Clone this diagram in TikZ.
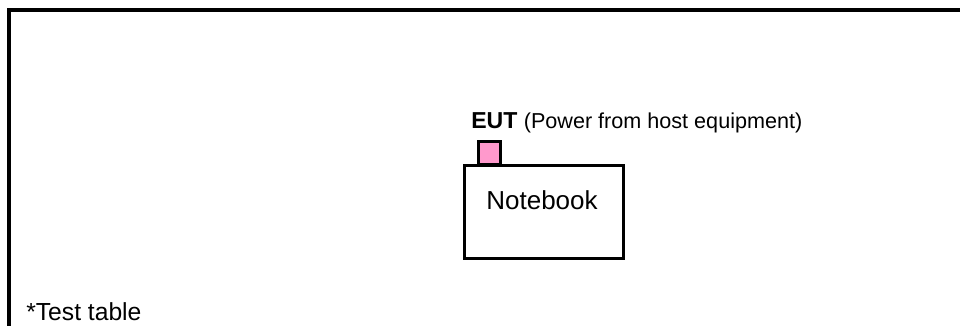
\documentclass[tikz,border=0pt]{standalone}
\usepackage{fontspec}
\setmainfont{Liberation Sans}
\definecolor{eutpink}{HTML}{FF99CC}
\begin{document}
\begin{tikzpicture}[x=0.75pt,y=-0.75pt,
  frame/.style={line width=3pt},
  box/.style={draw,line width=2.25pt,fill=white,inner sep=0pt},
  port/.style={draw,line width=2.25pt,fill=eutpink,inner sep=0pt,minimum size=17pt},
  txt/.style={inner sep=0pt,anchor=base west}]
\useasboundingbox (0,0) rectangle (960,325);
\clip (0,0) rectangle (960,325);
\fill[white] (0,0) rectangle (960,325);
\coordinate (fa) at (9,340);
\coordinate (fb) at (9,10);
\coordinate (fc) at (975,10);
\draw[frame] (fa) -- (fb) -- (fc);
\node[box,minimum width=119.25pt,minimum height=69.75pt] (nb) at (543.5,211.5) {};
\node[port] (usb) at (489.5,153) {};
\node[inner sep=0pt,anchor=base] (nbt) at (542,209) {\fontsize{19.5}{22}\selectfont Notebook};
\node[txt] (eut) at (471,128) {\fontsize{17.3}{20}\selectfont\textbf{EUT} \fontsize{16.2}{19}\selectfont(Power from host equipment)};
\node[txt] (tt) at (26,320) {\fontsize{18.5}{22}\selectfont *Test table};
\end{tikzpicture}
\end{document}
